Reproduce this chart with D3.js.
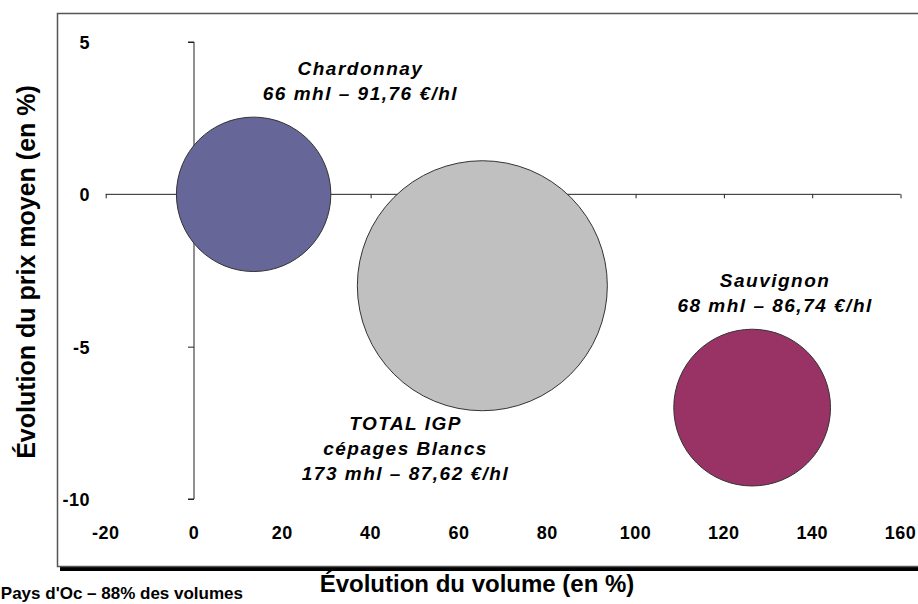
<!DOCTYPE html>
<html>
<head>
<meta charset="utf-8">
<script src="https://cdnjs.cloudflare.com/ajax/libs/d3/7.8.5/d3.min.js"></script>
<style>
  body { margin: 0; background: #fff; }
  text { font-family: "Liberation Sans", Arial, sans-serif; font-weight: bold; }
</style>
</head>
<body>
<script>
// data
var names = ["Chardonnay", "TOTAL IGP cépages Blancs", "Sauvignon"];
var volumeChange = [13.5, 65.3, 126.4];
var priceChange = [0, -3.0, -7.0];
var volumes = [66, 173, 68];
var colors = ["#666699", "#C0C0C0", "#993366"];
var labels = [
  ["Chardonnay", "66 mhl – 91,76 €/hl"],
  ["TOTAL IGP", "cépages Blancs", "173 mhl – 87,62 €/hl"],
  ["Sauvignon", "68 mhl – 86,74 €/hl"]
];
var labelPos = [[37.7, 3.92], [47.9, -7.74], [131.6, -3.04]]; // in data units
var xTicks = [-20, 0, 20, 40, 60, 80, 100, 120, 140, 160];
var yTicks = [5, 0, -5, -10];

var width = 918, height = 604;

var svg = d3.select("body").append("svg")
  .attr("width", width)
  .attr("height", height);

// frame with shadow
svg.append("rect")
  .attr("x", 60).attr("y", 16)
  .attr("width", 900).attr("height", 555)
  .attr("fill", "#000");
svg.append("rect")
  .attr("x", 57.5).attr("y", 13.5)
  .attr("width", 900).attr("height", 553)
  .attr("fill", "#fff")
  .attr("stroke", "#555")
  .attr("stroke-width", 1.5);

var x = d3.scaleLinear().domain([-20, 160]).range([105.7, 900.5]);
var y = d3.scaleLinear().domain([-10, 5]).range([499, 42]);
var r = d3.scaleSqrt().domain([0, 173]).range([0, 125]);

// x axis on y=0
var xAxis = svg.append("g")
  .attr("transform", "translate(0," + y(0) + ")")
  .call(d3.axisBottom(x).tickValues(xTicks).tickSize(4).tickFormat(""));
xAxis.select(".domain").attr("stroke", "#222").attr("d", "M" + x(-20) + ",0H" + x(160));
xAxis.selectAll(".tick line").attr("stroke", "#222");

// y axis at x=0
var yAxis = svg.append("g")
  .attr("transform", "translate(" + x(0) + ",0)")
  .call(d3.axisLeft(y).tickValues(yTicks).tickSize(6).tickFormat(""));
yAxis.select(".domain").attr("stroke", "#222").attr("d", "M-6," + y(5) + "H0V" + y(-10) + "H-6");
yAxis.selectAll(".tick line").attr("stroke", "#222");

// tick labels
svg.selectAll(".xlab")
  .data(xTicks)
  .enter().append("text")
  .attr("x", function(d) { return x(d); })
  .attr("y", 539)
  .attr("text-anchor", "middle")
  .style("font-size", "18px")
  .style("letter-spacing", "0.5px")
  .attr("fill", "#000")
  .text(function(d) { return d; });

svg.selectAll(".ylab")
  .data(yTicks)
  .enter().append("text")
  .attr("x", 90)
  .attr("y", function(d) { return y(d) + 7; })
  .attr("text-anchor", "end")
  .style("font-size", "18px")
  .style("letter-spacing", "0.5px")
  .attr("fill", "#000")
  .text(function(d) { return d; });

// bubbles
var idx = d3.range(names.length);
svg.selectAll("circle")
  .data(idx)
  .enter().append("circle")
  .attr("cx", function(i) { return x(volumeChange[i]); })
  .attr("cy", function(i) { return y(priceChange[i]); })
  .attr("r", function(i) { return r(volumes[i]); })
  .attr("fill", function(i) { return colors[i]; })
  .attr("stroke", "#333")
  .attr("stroke-width", 1);

// bubble labels
idx.forEach(function(i) {
  var t = svg.append("text")
    .attr("text-anchor", "middle")
    .style("font-size", "19px")
    .style("font-style", "italic")
    .style("letter-spacing", "1.5px")
    .attr("fill", "#000");
  labels[i].forEach(function(line, k) {
    t.append("tspan")
      .attr("x", x(labelPos[i][0]))
      .attr("y", y(labelPos[i][1]) + k * 25)
      .text(line);
  });
});

// axis titles
svg.append("text")
  .attr("x", 477)
  .attr("y", 592)
  .attr("text-anchor", "middle")
  .style("font-size", "24px")
  .attr("fill", "#000")
  .text("Évolution du volume (en %)");

svg.append("text")
  .attr("transform", "translate(35,272) rotate(-90)")
  .attr("text-anchor", "middle")
  .style("font-size", "25px")
  .attr("fill", "#000")
  .text("Évolution du prix moyen (en %)");

// footnote
svg.append("text")
  .attr("x", 243)
  .attr("y", 599)
  .attr("text-anchor", "end")
  .style("font-size", "17px")
  .attr("fill", "#000")
  .text("Pays d'Oc – 88% des volumes");
</script>
</body>
</html>
